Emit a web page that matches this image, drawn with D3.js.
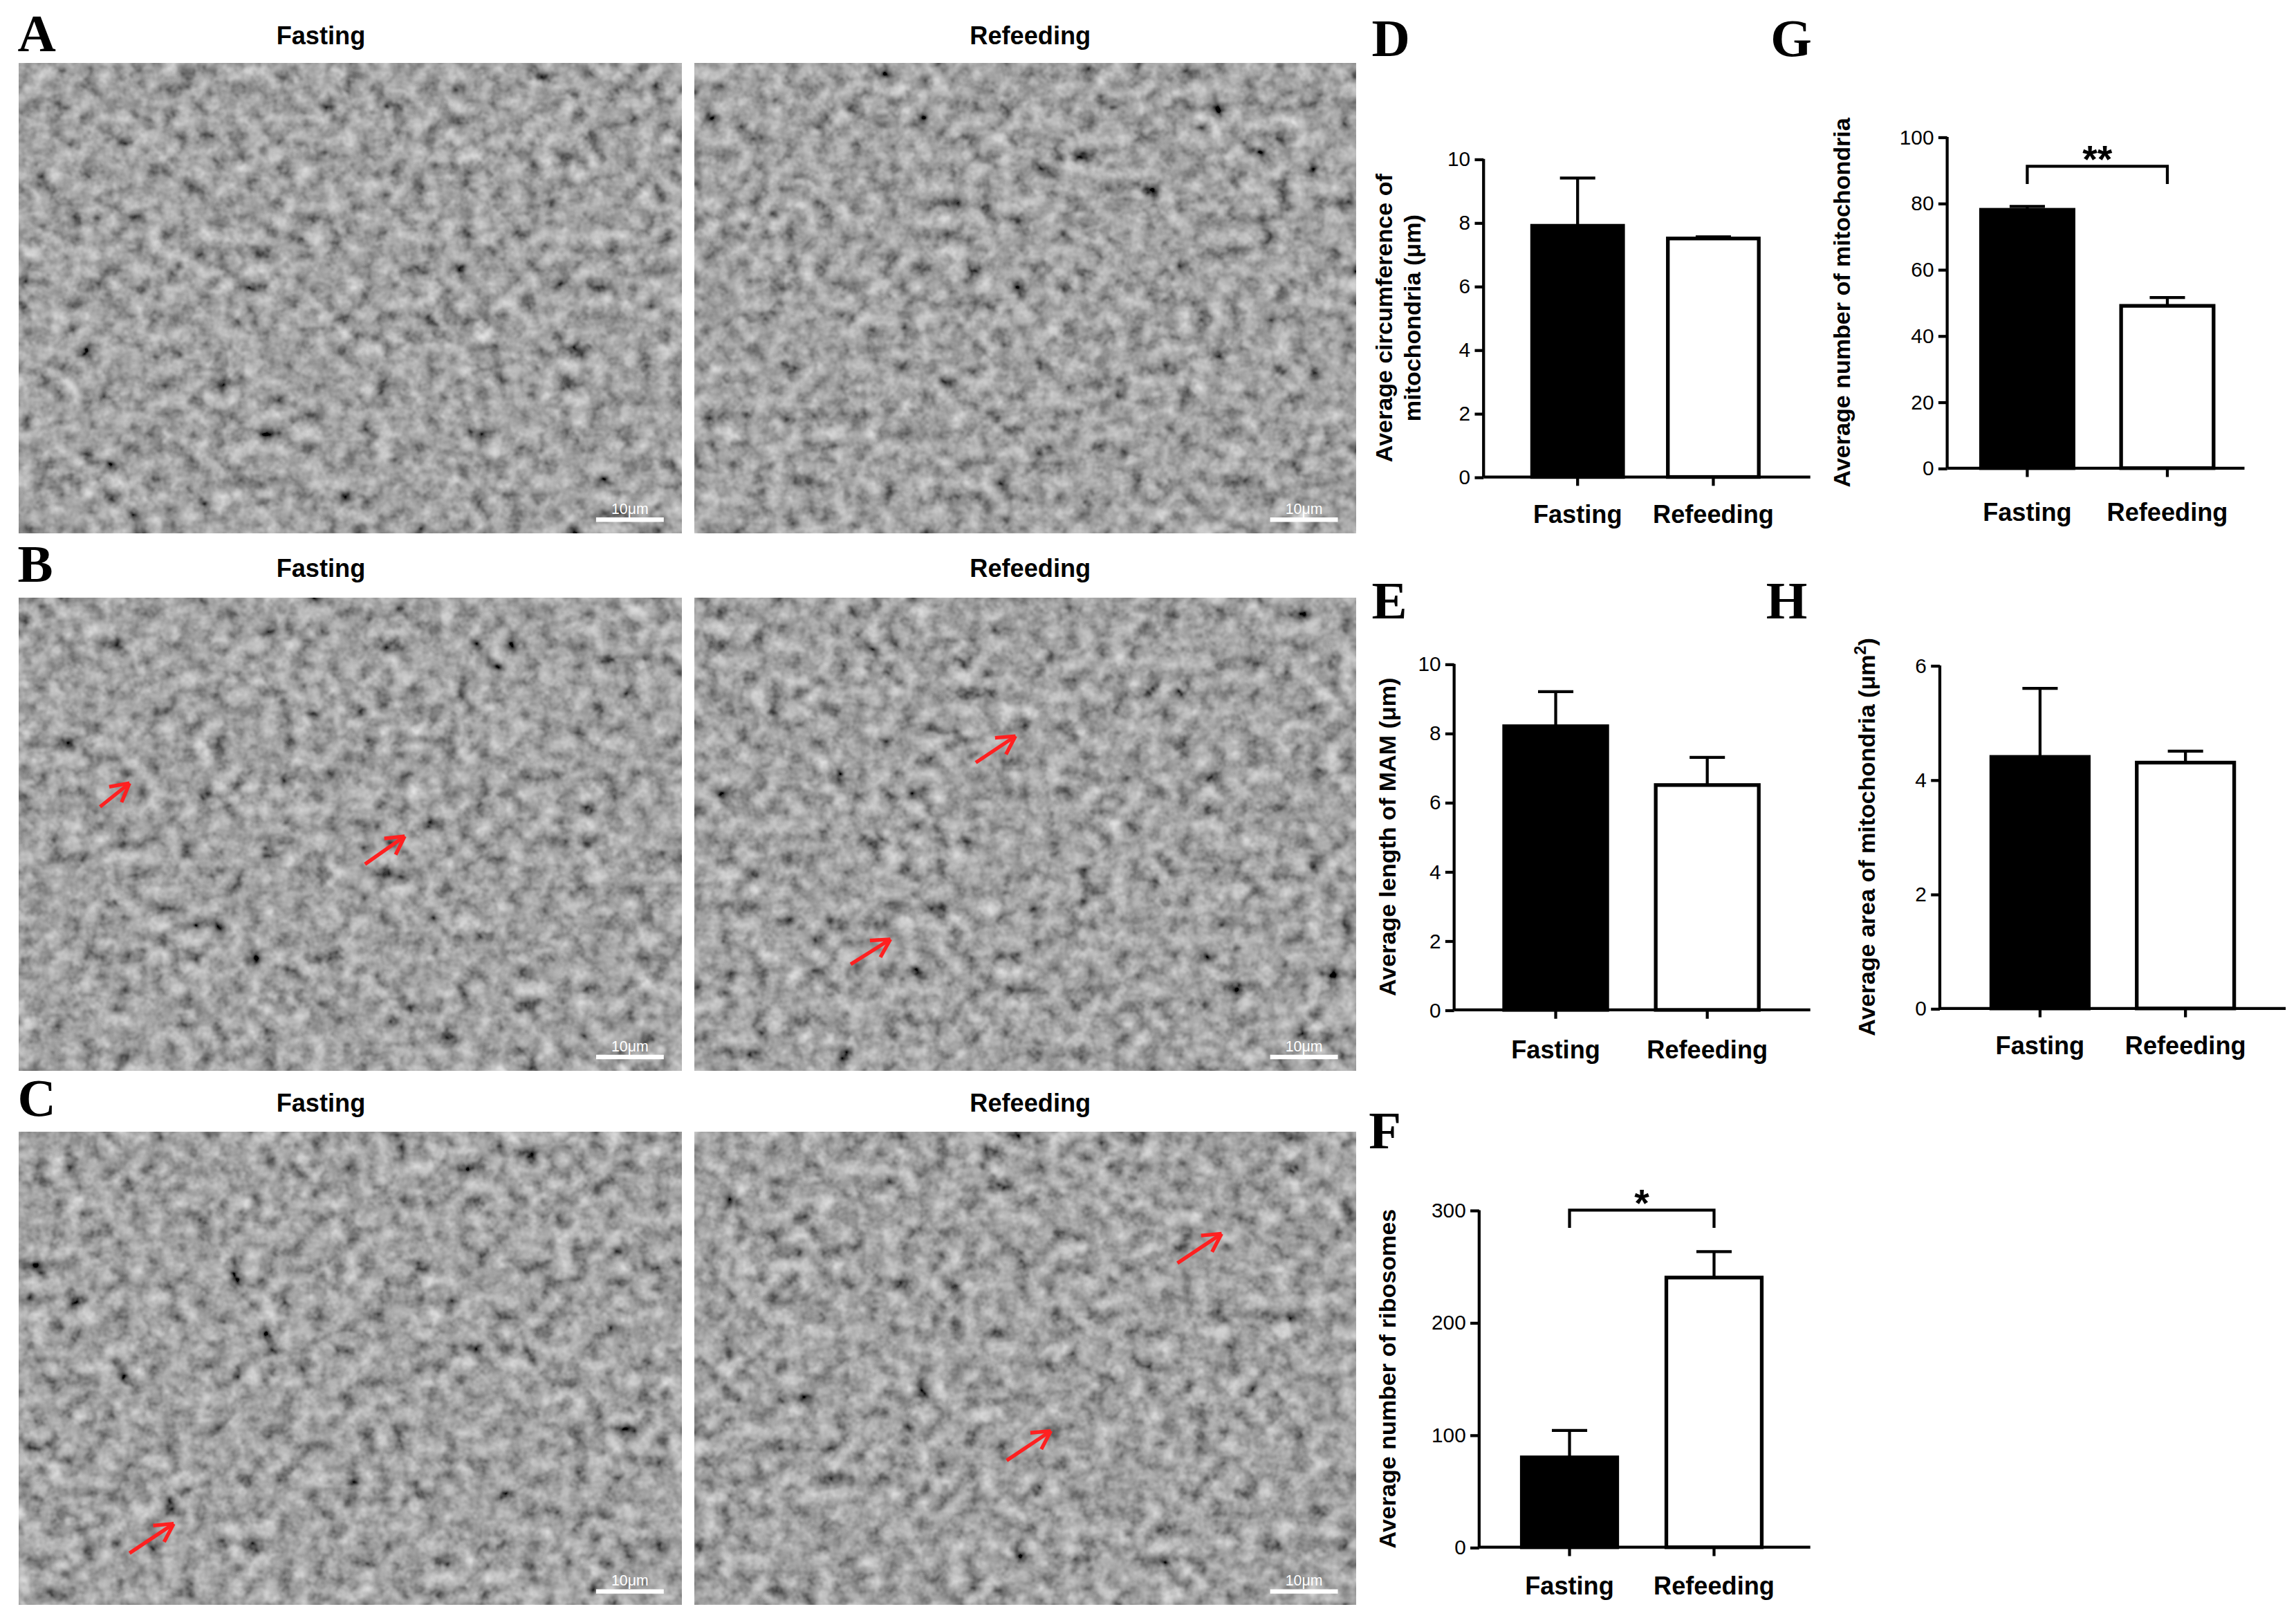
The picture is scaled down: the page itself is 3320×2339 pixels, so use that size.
<!DOCTYPE html>
<html><head><meta charset="utf-8">
<script src="https://cdn.jsdelivr.net/npm/d3@7"></script>
<style>body{margin:0;background:#fff}</style></head>
<body><svg id="c" width="3320" height="2339"></svg>
<script>
const categories = ["Fasting","Refeeding"];
const circMeans = [7.9, 7.5], circErr = [9.4, 7.55];
const countMeans = [78, 49], countErr = [79, 51.5];
const mamMeans = [8.2, 6.5], mamErr = [9.2, 7.3];
const areaMeans = [4.4, 4.3], areaErr = [5.6, 4.5];
const riboMeans = [80, 240], riboErr = [104, 263];
const circTicks = [0,2,4,6,8,10], countTicks = [0,20,40,60,80,100];
const mamTicks = [0,2,4,6,8,10], areaTicks = [0,2,4,6], riboTicks = [0,100,200,300];

const S = 3320/1560;
const svg = d3.select("#c");
const defs = svg.append("defs");
const f = defs.append("filter").attr("id","em").attr("x",0).attr("y",0).attr("width","100%").attr("height","100%");
f.append("feTurbulence").attr("type","fractalNoise").attr("baseFrequency",0.09).attr("numOctaves",3).attr("seed",4);
f.append("feColorMatrix").attr("type","matrix").attr("values","0.45 0.45 0.45 0 -0.32  0.45 0.45 0.45 0 -0.32  0.45 0.45 0.45 0 -0.32  0 0 0 0 1");
const root = svg.append("g").attr("transform",`scale(${S})`);
const sans = "Liberation Sans, Arial, sans-serif";

const rows = [{L:"A",y0:43,y1:362,ty:30,ly:35},{L:"B",y0:406,y1:727,ty:392,ly:395},{L:"C",y0:769,y1:1090,ty:755,ly:758}];
const cols = [{x0:13,x1:463,tx:218,t:"Fasting"},{x0:472,x1:921,tx:700,t:"Refeeding"}];
rows.forEach(r=>{
  root.append("text").attr("x",12).attr("y",r.ly).attr("font-family","Liberation Serif, Times New Roman, serif").attr("font-weight","bold").attr("font-size",36).text(r.L);
  cols.forEach(c=>{
    root.append("text").attr("x",c.tx).attr("y",r.ty).attr("text-anchor","middle").attr("font-family",sans).attr("font-weight","bold").attr("font-size",17).text(c.t);
    root.append("rect").attr("x",c.x0).attr("y",r.y0).attr("width",c.x1-c.x0).attr("height",r.y1-r.y0).attr("fill","#3c3c3c");
    root.append("rect").attr("x",c.x0).attr("y",r.y0).attr("width",c.x1-c.x0).attr("height",r.y1-r.y0).attr("filter","url(#em)");
    root.append("line").attr("x1",c.x1-58).attr("x2",c.x1-12).attr("y1",r.y1-9).attr("y2",r.y1-9).attr("stroke","#fff").attr("stroke-width",3);
    root.append("text").attr("x",c.x1-35).attr("y",r.y1-13).attr("text-anchor","middle").attr("fill","#fff").attr("font-family",sans).attr("font-size",10).text("10μm");
  });
});
const arrows = [[68,548,88,532],[248,587,275,568],[663,518,690,500],[578,655,605,638],[88,1055,118,1035],[800,858,830,838],[684,992,714,972]];
arrows.forEach(a=>{
  const g=root.append("g").attr("stroke","#ff2020").attr("stroke-width",2.5).attr("fill","none");
  g.append("line").attr("x1",a[0]).attr("y1",a[1]).attr("x2",a[2]).attr("y2",a[3]);
  const ang=Math.atan2(a[3]-a[1],a[2]-a[0]);
  [0.5,-0.5].forEach(d=>g.append("line").attr("x1",a[2]).attr("y1",a[3]).attr("x2",a[2]-14*Math.cos(ang+d)).attr("y2",a[3]-14*Math.sin(ang+d)));
});

function panel(o){
  const g = root.append("g");
  g.append("text").attr("x",o.lx).attr("y",o.ly).attr("font-family","Liberation Serif, Times New Roman, serif").attr("font-weight","bold").attr("font-size",36).text(o.L);
  const y = d3.scaleLinear().domain([0,o.max]).range([o.yb,o.yt]);
  const x = d3.scaleBand().domain(categories).range([o.bx0,o.bx1]).paddingInner(o.pin).paddingOuter(0);
  const ax = g.append("g").attr("transform",`translate(${o.ax},0)`).call(d3.axisLeft(y).tickValues(o.ticks).tickSize(6).tickFormat(d3.format("d")));
  ax.selectAll("text").attr("font-family",sans).attr("font-size",14).attr("fill","#000");
  ax.selectAll("path,line").attr("stroke","#000").attr("stroke-width",2);
  ax.select(".domain").attr("d",`M0,${o.yt}V${o.yb}`);
  const xa = g.append("g").attr("transform",`translate(0,${o.yb})`);
  xa.append("line").attr("x1",o.ax).attr("x2",o.axEnd).attr("stroke","#000").attr("stroke-width",2);
  categories.forEach((c,i)=>{
    const cx=x(c)+x.bandwidth()/2;
    xa.append("line").attr("x1",cx).attr("x2",cx).attr("y2",6).attr("stroke","#000").attr("stroke-width",2);
    xa.append("text").attr("x",cx).attr("y",o.cy-o.yb).attr("text-anchor","middle").attr("font-family",sans).attr("font-weight","bold").attr("font-size",17).text(c);
    g.append("line").attr("x1",cx).attr("x2",cx).attr("y1",y(o.err[i])).attr("y2",y(o.m[i])).attr("stroke","#000").attr("stroke-width",2);
    g.append("line").attr("x1",cx-12).attr("x2",cx+12).attr("y1",y(o.err[i])).attr("y2",y(o.err[i])).attr("stroke","#000").attr("stroke-width",2);
    g.append("rect").attr("x",x(c)).attr("y",y(o.m[i])).attr("width",x.bandwidth()).attr("height",o.yb-y(o.m[i]))
      .attr("fill",i===0?"#000":"#fff").attr("stroke","#000").attr("stroke-width",2.5);
  });
  const lab = g.append("text").attr("transform",`translate(${o.ylx},${(o.yt+o.yb)/2}) rotate(-90)`).attr("text-anchor","middle").attr("font-family",sans).attr("font-weight","bold").attr("font-size",16);
  o.ylab.forEach((t,i)=>lab.append("tspan").attr("x",0).attr("dy",i?19:0).html(t));
  if(o.sig){
    const c0=x(categories[0])+x.bandwidth()/2, c1=x(categories[1])+x.bandwidth()/2;
    g.append("path").attr("d",`M${c0},${o.sigY+12}V${o.sigY}H${c1}V${o.sigY+12}`).attr("fill","none").attr("stroke","#000").attr("stroke-width",2);
    g.append("text").attr("x",(c0+c1)/2).attr("y",o.sigY+4).attr("text-anchor","middle").attr("font-family",sans).attr("font-weight","bold").attr("font-size",26).text(o.sig);
  }
}
panel({L:"D",lx:932,ly:38,ax:1008,yt:108,yb:324,max:10,ticks:circTicks,bx0:1041,bx1:1195,pin:0.33,axEnd:1230,cy:355,m:circMeans,err:circErr,ylx:946,ylab:["Average circumference of","mitochondria (μm)"]});
panel({L:"G",lx:1203,ly:38,ax:1323,yt:93,yb:318,max:100,ticks:countTicks,bx0:1346,bx1:1504,pin:0.34,axEnd:1525,cy:354,m:countMeans,err:countErr,ylx:1257,ylab:["Average number of mitochondria"],sig:"**",sigY:113});
panel({L:"E",lx:932,ly:420,ax:988,yt:451,yb:686,max:10,ticks:mamTicks,bx0:1022,bx1:1195,pin:0.32,axEnd:1230,cy:719,m:mamMeans,err:mamErr,ylx:948,ylab:["Average length of MAM (μm)"]});
panel({L:"H",lx:1200,ly:420,ax:1318,yt:452,yb:685,max:6,ticks:areaTicks,bx0:1353,bx1:1518,pin:0.33,axEnd:1553,cy:716,m:areaMeans,err:areaErr,ylx:1274,ylab:["Average area of mitochondria (μm<tspan baseline-shift='super' font-size='11'>2</tspan>)"]});
panel({L:"F",lx:930,ly:780,ax:1005,yt:822,yb:1051,max:300,ticks:riboTicks,bx0:1034,bx1:1197,pin:0.34,axEnd:1230,cy:1083,m:riboMeans,err:riboErr,ylx:948,ylab:["Average number of ribosomes"],sig:"*",sigY:822});
</script></body></html>
